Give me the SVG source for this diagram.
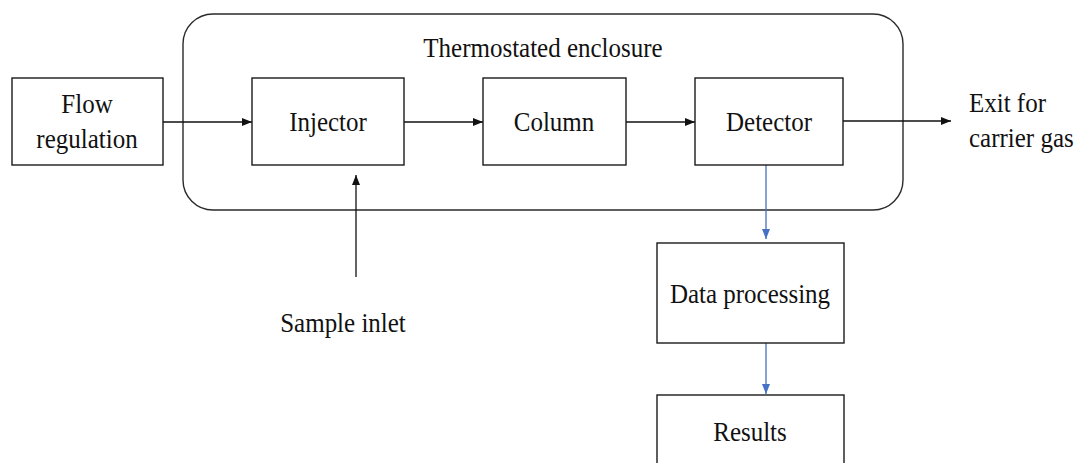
<svg xmlns="http://www.w3.org/2000/svg" width="1078" height="463" viewBox="0 0 1078 463">
  <style>
    .box { fill: #ffffff; stroke: #1a1a1a; stroke-width: 1.4; }
    .encl { fill: none; stroke: #2a2a2a; stroke-width: 1.4; }
    .lbl { font-family: 'Times New Roman', 'Liberation Serif', Tinos, 'DejaVu Serif', serif; font-size: 25px; fill: #111111; }
    .mid { text-anchor: middle; }
    .wire { fill: none; stroke: #111111; stroke-width: 1.3; }
    .wire-blue { fill: none; stroke: #4472c4; stroke-width: 1.3; }
  </style>
  <defs>
    <marker id="ah" markerUnits="userSpaceOnUse" markerWidth="10" markerHeight="10" viewBox="0 0 10 10" refX="10" refY="5" orient="auto">
      <path d="M0,1 L10,5 L0,9 Z" fill="#111111"/>
    </marker>
    <marker id="ah-blue" markerUnits="userSpaceOnUse" markerWidth="10" markerHeight="10" viewBox="0 0 10 10" refX="10" refY="5" orient="auto">
      <path d="M0,1 L10,5 L0,9 Z" fill="#4472c4"/>
    </marker>
  </defs>

  <!-- thermostated enclosure; labels are set in slightly tall type (scaled 1.09 vertically about their baseline) -->
  <g id="enclosure">
    <rect class="encl" x="183" y="14" width="720" height="196" rx="30" ry="30"/>
    <text class="lbl mid" transform="translate(543,57) scale(1,1.09)">Thermostated enclosure</text>
  </g>

  <g id="connectors">
    <line class="wire" x1="163" y1="122" x2="252" y2="122" marker-end="url(#ah)"/>
    <line class="wire" x1="404" y1="122" x2="483" y2="122" marker-end="url(#ah)"/>
    <line class="wire" x1="626" y1="122" x2="695" y2="122" marker-end="url(#ah)"/>
    <line class="wire" x1="843" y1="121" x2="951" y2="121" marker-end="url(#ah)"/>
    <line class="wire" x1="356" y1="277" x2="356" y2="175" marker-end="url(#ah)"/>
    <line class="wire-blue" x1="766" y1="163" x2="766" y2="239" marker-end="url(#ah-blue)"/>
    <line class="wire-blue" x1="766" y1="343" x2="766" y2="394" marker-end="url(#ah-blue)"/>
  </g>

  <g id="flow-regulation">
    <rect class="box" x="12" y="78" width="151" height="87"/>
    <text class="lbl mid" transform="translate(87,113) scale(1,1.09)">Flow</text>
    <text class="lbl mid" transform="translate(87,148) scale(1,1.09)">regulation</text>
  </g>

  <g id="injector">
    <rect class="box" x="252" y="78" width="152" height="87"/>
    <text class="lbl mid" transform="translate(328,131) scale(1,1.09)">Injector</text>
  </g>

  <g id="column">
    <rect class="box" x="483" y="78" width="143" height="87"/>
    <text class="lbl mid" transform="translate(554,131) scale(1,1.09)">Column</text>
  </g>

  <g id="detector">
    <rect class="box" x="695" y="78" width="148" height="87"/>
    <text class="lbl mid" transform="translate(769,131) scale(1,1.09)">Detector</text>
  </g>

  <g id="exit">
    <text class="lbl" transform="translate(969,112) scale(1,1.09)">Exit for</text>
    <text class="lbl" transform="translate(969,147) scale(1,1.09)">carrier gas</text>
  </g>

  <g id="sample-inlet">
    <text class="lbl mid" transform="translate(343,332) scale(1,1.09)">Sample inlet</text>
  </g>

  <g id="data-processing">
    <rect class="box" x="657" y="243" width="187" height="100"/>
    <text class="lbl mid" transform="translate(750,303) scale(1,1.09)">Data processing</text>
  </g>

  <g id="results">
    <rect class="box" x="657" y="395" width="187" height="80"/>
    <text class="lbl mid" transform="translate(750,441) scale(1,1.09)">Results</text>
  </g>
</svg>
